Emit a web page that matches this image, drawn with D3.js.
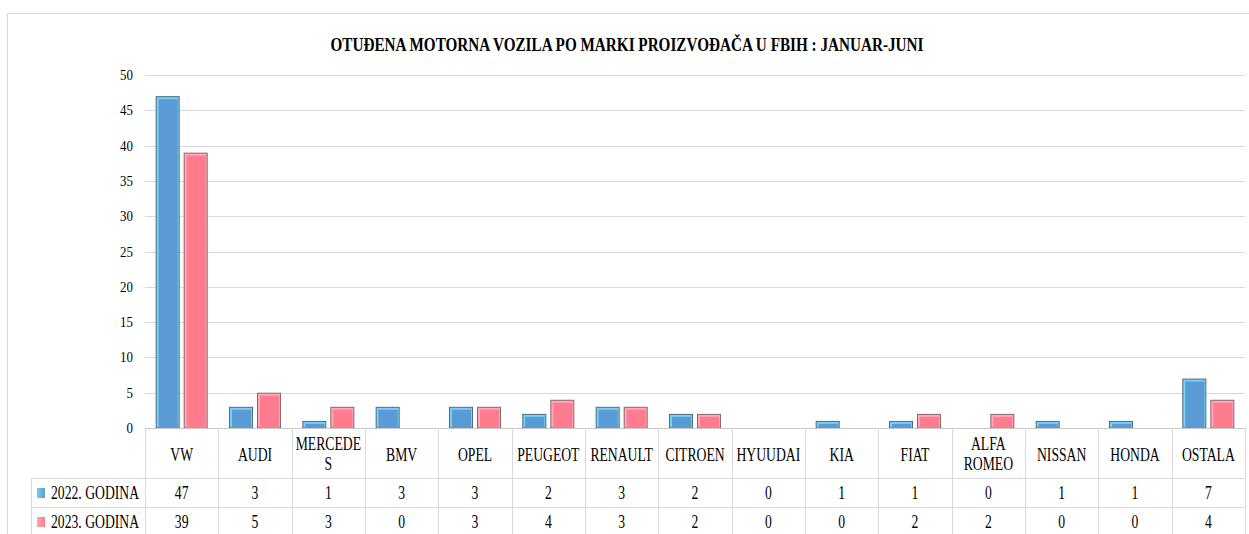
<!DOCTYPE html>
<html>
<head>
<meta charset="utf-8">
<script src="https://cdn.jsdelivr.net/npm/d3@7"></script>
<style>
  body { margin: 0; background: #fff; }
  text { font-family: "Liberation Serif", serif; fill: #000; }
</style>
</head>
<body>
<div id="chart"></div>
<script>
// podaci
var categories = ["VW", "AUDI", "MERCEDES", "BMV", "OPEL", "PEUGEOT", "RENAULT", "CITROEN", "HYUUDAI", "KIA", "FIAT", "ALFA ROMEO", "NISSAN", "HONDA", "OSTALA"];
var categoryLines = [["VW"], ["AUDI"], ["MERCEDE", "S"], ["BMV"], ["OPEL"], ["PEUGEOT"], ["RENAULT"], ["CITROEN"], ["HYUUDAI"], ["KIA"], ["FIAT"], ["ALFA", "ROMEO"], ["NISSAN"], ["HONDA"], ["OSTALA"]];
var seriesNames = ["2022. GODINA", "2023. GODINA"];
var values2022 = [47, 3, 1, 3, 3, 2, 3, 2, 0, 1, 1, 0, 1, 1, 7];
var values2023 = [39, 5, 3, 0, 3, 4, 3, 2, 0, 0, 2, 2, 0, 0, 4];
var yTicks = [0, 5, 10, 15, 20, 25, 30, 35, 40, 45, 50];
var title = "OTUĐENA MOTORNA VOZILA PO MARKI PROIZVOĐAČA U FBIH : JANUAR-JUNI";

var width = 1249, height = 534;
var plotLeft = 145, plotRight = 1245, plotTop = 75, plotBase = 428;
var kx = 0.72; // suzen font

var mainColors = ["#5b9bd5", "#ff7c8f"];
var lightColors = ["#74d0f4", "#ffa6b8"];
var edgeColors = ["#54697c", "#86686e"];

var svg = d3.select("#chart").append("svg")
    .attr("width", width)
    .attr("height", height);

// okvir
svg.append("rect")
    .attr("x", 7.5).attr("y", 13.5)
    .attr("width", 1300).attr("height", 600)
    .attr("fill", "none").attr("stroke", "#d9d9d9");

var x = d3.scaleBand()
    .domain(categories)
    .range([plotLeft, plotRight]);

var xs = d3.scaleBand()
    .domain([0, 1])
    .range([0, x.bandwidth()])
    .paddingInner(0.143)
    .paddingOuter(0.38);

var y = d3.scaleLinear()
    .domain([0, 50])
    .range([plotBase, plotTop]);

function squeezed(sel, px, py, k) {
    return sel.attr("transform", "translate(" + px + "," + py + ") scale(" + k + ",1)");
}

// mreza
svg.append("g")
    .selectAll("line")
    .data(yTicks.filter(d => d > 0))
    .enter()
    .append("line")
    .attr("x1", plotLeft).attr("x2", plotRight)
    .attr("y1", d => Math.round(y(d)) + 0.5)
    .attr("y2", d => Math.round(y(d)) + 0.5)
    .attr("stroke", "#d9d9d9");

// y oznake
svg.append("g")
    .selectAll("text")
    .data(yTicks)
    .enter()
    .append("text")
    .attr("text-anchor", "end")
    .style("font-size", "15px")
    .each(function (d) { squeezed(d3.select(this), 133, y(d) + 5, 0.86); })
    .text(d => d);

// stupci
var series = [values2022, values2023];
series.forEach(function (vals, s) {
    var g = svg.append("g");
    var bars = g.selectAll("g")
        .data(categories.map((c, i) => ({ c: c, v: vals[i] })).filter(d => d.v > 0))
        .enter()
        .append("g");
    bars.append("rect")
        .attr("x", d => x(d.c) + xs(s) + 0.5)
        .attr("y", d => y(d.v) + 0.5)
        .attr("width", xs.bandwidth() - 1)
        .attr("height", d => plotBase - y(d.v) - 0.5)
        .attr("fill", lightColors[s])
        .attr("stroke", edgeColors[s]);
    bars.append("rect")
        .attr("x", d => x(d.c) + xs(s) + 3)
        .attr("y", d => y(d.v) + 3)
        .attr("width", xs.bandwidth() - 5)
        .attr("height", d => Math.max(0, plotBase - y(d.v) - 3))
        .attr("fill", mainColors[s]);
});

// tablica
var lines = svg.append("g").attr("stroke", "#d9d9d9");
lines.append("line")
    .attr("x1", plotLeft).attr("x2", plotRight)
    .attr("y1", plotBase + 0.5).attr("y2", plotBase + 0.5)
    .attr("stroke", "#c8c8c8");
[478, 507].forEach(function (ry) {
    lines.append("line")
        .attr("x1", 31).attr("x2", plotRight)
        .attr("y1", ry + 0.5).attr("y2", ry + 0.5);
});
lines.append("line")
    .attr("x1", 31.5).attr("x2", 31.5)
    .attr("y1", 478).attr("y2", height);
lines.selectAll("line.col")
    .data(categories.concat(["end"]))
    .enter()
    .append("line")
    .attr("class", "col")
    .attr("x1", d => Math.round(d === "end" ? plotRight : x(d)) + 0.5)
    .attr("x2", d => Math.round(d === "end" ? plotRight : x(d)) + 0.5)
    .attr("y1", plotBase).attr("y2", height);

// nazivi kategorija
var cat = svg.append("g")
    .selectAll("g")
    .data(categories)
    .enter()
    .append("g");
cat.each(function (c, i) {
    var ls = categoryLines[i];
    var cx = x(c) + x.bandwidth() / 2;
    ls.forEach(function (t, j) {
        var by = ls.length === 1 ? 461 : 450 + j * 20;
        d3.select(this).append("text")
            .attr("text-anchor", "middle")
            .style("font-size", "19px")
            .call(squeezed, cx, by, kx)
            .text(t);
    }, this);
});

// vrijednosti
series.forEach(function (vals, s) {
    var rowY = s === 0 ? 499 : 528;
    svg.append("g")
        .selectAll("text")
        .data(vals)
        .enter()
        .append("text")
        .attr("text-anchor", "middle")
        .style("font-size", "19px")
        .each(function (d, i) {
            squeezed(d3.select(this), x(categories[i]) + x.bandwidth() / 2, rowY, kx);
        })
        .text(d => d);

    // legenda
    var grad = svg.append("defs").append("linearGradient")
        .attr("id", "lg" + s);
    grad.append("stop").attr("offset", "0").attr("stop-color", lightColors[s]);
    grad.append("stop").attr("offset", "1").attr("stop-color", mainColors[s]);
    svg.append("rect")
        .attr("x", 37).attr("y", rowY - 11)
        .attr("width", 8).attr("height", 10)
        .attr("fill", "url(#lg" + s + ")");
    svg.append("text")
        .style("font-size", "19px")
        .call(squeezed, 51, rowY, kx)
        .text(seriesNames[s]);
});

// naslov
svg.append("text")
    .attr("x", 627).attr("y", 51)
    .attr("text-anchor", "middle")
    .attr("textLength", 593)
    .attr("lengthAdjust", "spacingAndGlyphs")
    .style("font-size", "19px")
    .style("font-weight", "bold")
    .text(title);
</script>
</body>
</html>
